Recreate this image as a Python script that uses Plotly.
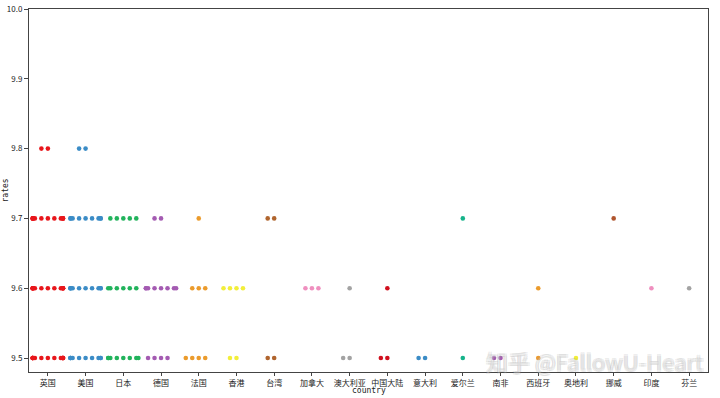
import plotly.graph_objects as go

countries = ["英国", "美国", "日本", "德国", "法国", "香港", "台湾", "加拿大", "澳大利亚",
             "中国大陆", "意大利", "爱尔兰", "南非", "西班牙", "奥地利", "挪威", "印度", "芬兰"]
ratings = [9.5, 9.6, 9.7, 9.8]
# number of films per country at each rating (9.5, 9.6, 9.7, 9.8)
counts = {
    "英国": [15, 14, 12, 2],
    "美国": [10, 10, 9, 2],
    "日本": [8, 6, 5, 0],
    "德国": [4, 8, 2, 0],
    "法国": [4, 3, 1, 0],
    "香港": [2, 4, 0, 0],
    "台湾": [2, 0, 2, 0],
    "加拿大": [0, 3, 0, 0],
    "澳大利亚": [2, 1, 0, 0],
    "中国大陆": [2, 1, 0, 0],
    "意大利": [2, 0, 0, 0],
    "爱尔兰": [1, 0, 1, 0],
    "南非": [2, 0, 0, 0],
    "西班牙": [1, 1, 0, 0],
    "奥地利": [1, 0, 0, 0],
    "挪威": [0, 0, 1, 0],
    "印度": [0, 1, 0, 0],
    "芬兰": [0, 1, 0, 0],
}
colors = ["#e8161b", "#3b8cc6", "#22b35c", "#a45bb2", "#eb9b2c", "#f2ee3a", "#b0652e",
          "#ef8fbf", "#a3a3a3", "#d0101e", "#3b8cc6", "#16b38a", "#a45bb2", "#eb9b2c",
          "#f2ee3a", "#b0552e", "#ef8fbf", "#a3a3a3"]

SPACING = 0.172   # swarm spacing (category units)
HALF = 0.4        # half width of each swarm


def swarm_offsets(n):
    offs = []
    for i in range(n):
        k = (i + 1) // 2
        sign = -1 if i % 2 == 1 else 1
        o = sign * k * SPACING
        o = max(-HALF, min(HALF, o))
        offs.append(o)
    return offs


fig = go.Figure()
for ci, c in enumerate(countries):
    xs, ys = [], []
    for ri, r in enumerate(ratings):
        for o in swarm_offsets(counts[c][ri]):
            xs.append(ci + o)
            ys.append(r)
    fig.add_trace(go.Scatter(
        x=xs, y=ys, mode="markers", name=c,
        marker=dict(size=4.6, color=colors[ci], line=dict(width=0)),
        showlegend=False))

font_family = "Noto Sans CJK SC, DejaVu Sans, sans-serif"
fig.update_layout(
    width=720, height=398,
    margin=dict(l=29, r=12, t=9, b=26),
    paper_bgcolor="white", plot_bgcolor="white",
    font=dict(family=font_family, size=8, color="#222"),
    xaxis=dict(
        range=[-0.5, len(countries) - 0.5],
        tickvals=list(range(len(countries))), ticktext=countries,
        showgrid=False, zeroline=False, automargin=False,
        showline=True, mirror=True, linecolor="#444", linewidth=1,
        ticks="outside", ticklen=3, tickcolor="#444",
        tickfont=dict(size=8),
    ),
    yaxis=dict(
        range=[9.48, 10.0],
        tickvals=[9.5, 9.6, 9.7, 9.8, 9.9, 10.0],
        ticktext=["9.5", "9.6", "9.7", "9.8", "9.9", "10.0"],
        showgrid=False, zeroline=False, automargin=False,
        showline=True, mirror=True, linecolor="#444", linewidth=1,
        ticks="outside", ticklen=4, tickcolor="#444",
        tickfont=dict(size=8),
    ),
)

fig.add_annotation(text="country", xref="paper", yref="paper", x=0.5, y=0, yshift=-18,
                   xanchor="center", yanchor="middle", showarrow=False,
                   font=dict(size=8, family="DejaVu Sans Mono", color="#222"))
fig.add_annotation(text="rates", xref="paper", yref="paper", x=0, y=0.5, xshift=-24,
                   xanchor="center", yanchor="middle", showarrow=False, textangle=-90,
                   font=dict(size=8, family="DejaVu Sans Mono", color="#222"))

fig.add_annotation(
    text="知乎 @FallowU-Heart", xref="paper", yref="paper",
    x=0.995, y=0.0, yshift=11, xanchor="right", yanchor="middle", showarrow=False,
    font=dict(size=22, family=font_family, color="rgba(255,255,255,0.25)",
              shadow="-1px -1px 0 rgba(150,150,150,0.7), 1px -1px 0 rgba(150,150,150,0.7), "
                     "-1px 1px 0 rgba(150,150,150,0.7), 1px 1px 0 rgba(150,150,150,0.7)"),
)

fig.write_html("out.html")
